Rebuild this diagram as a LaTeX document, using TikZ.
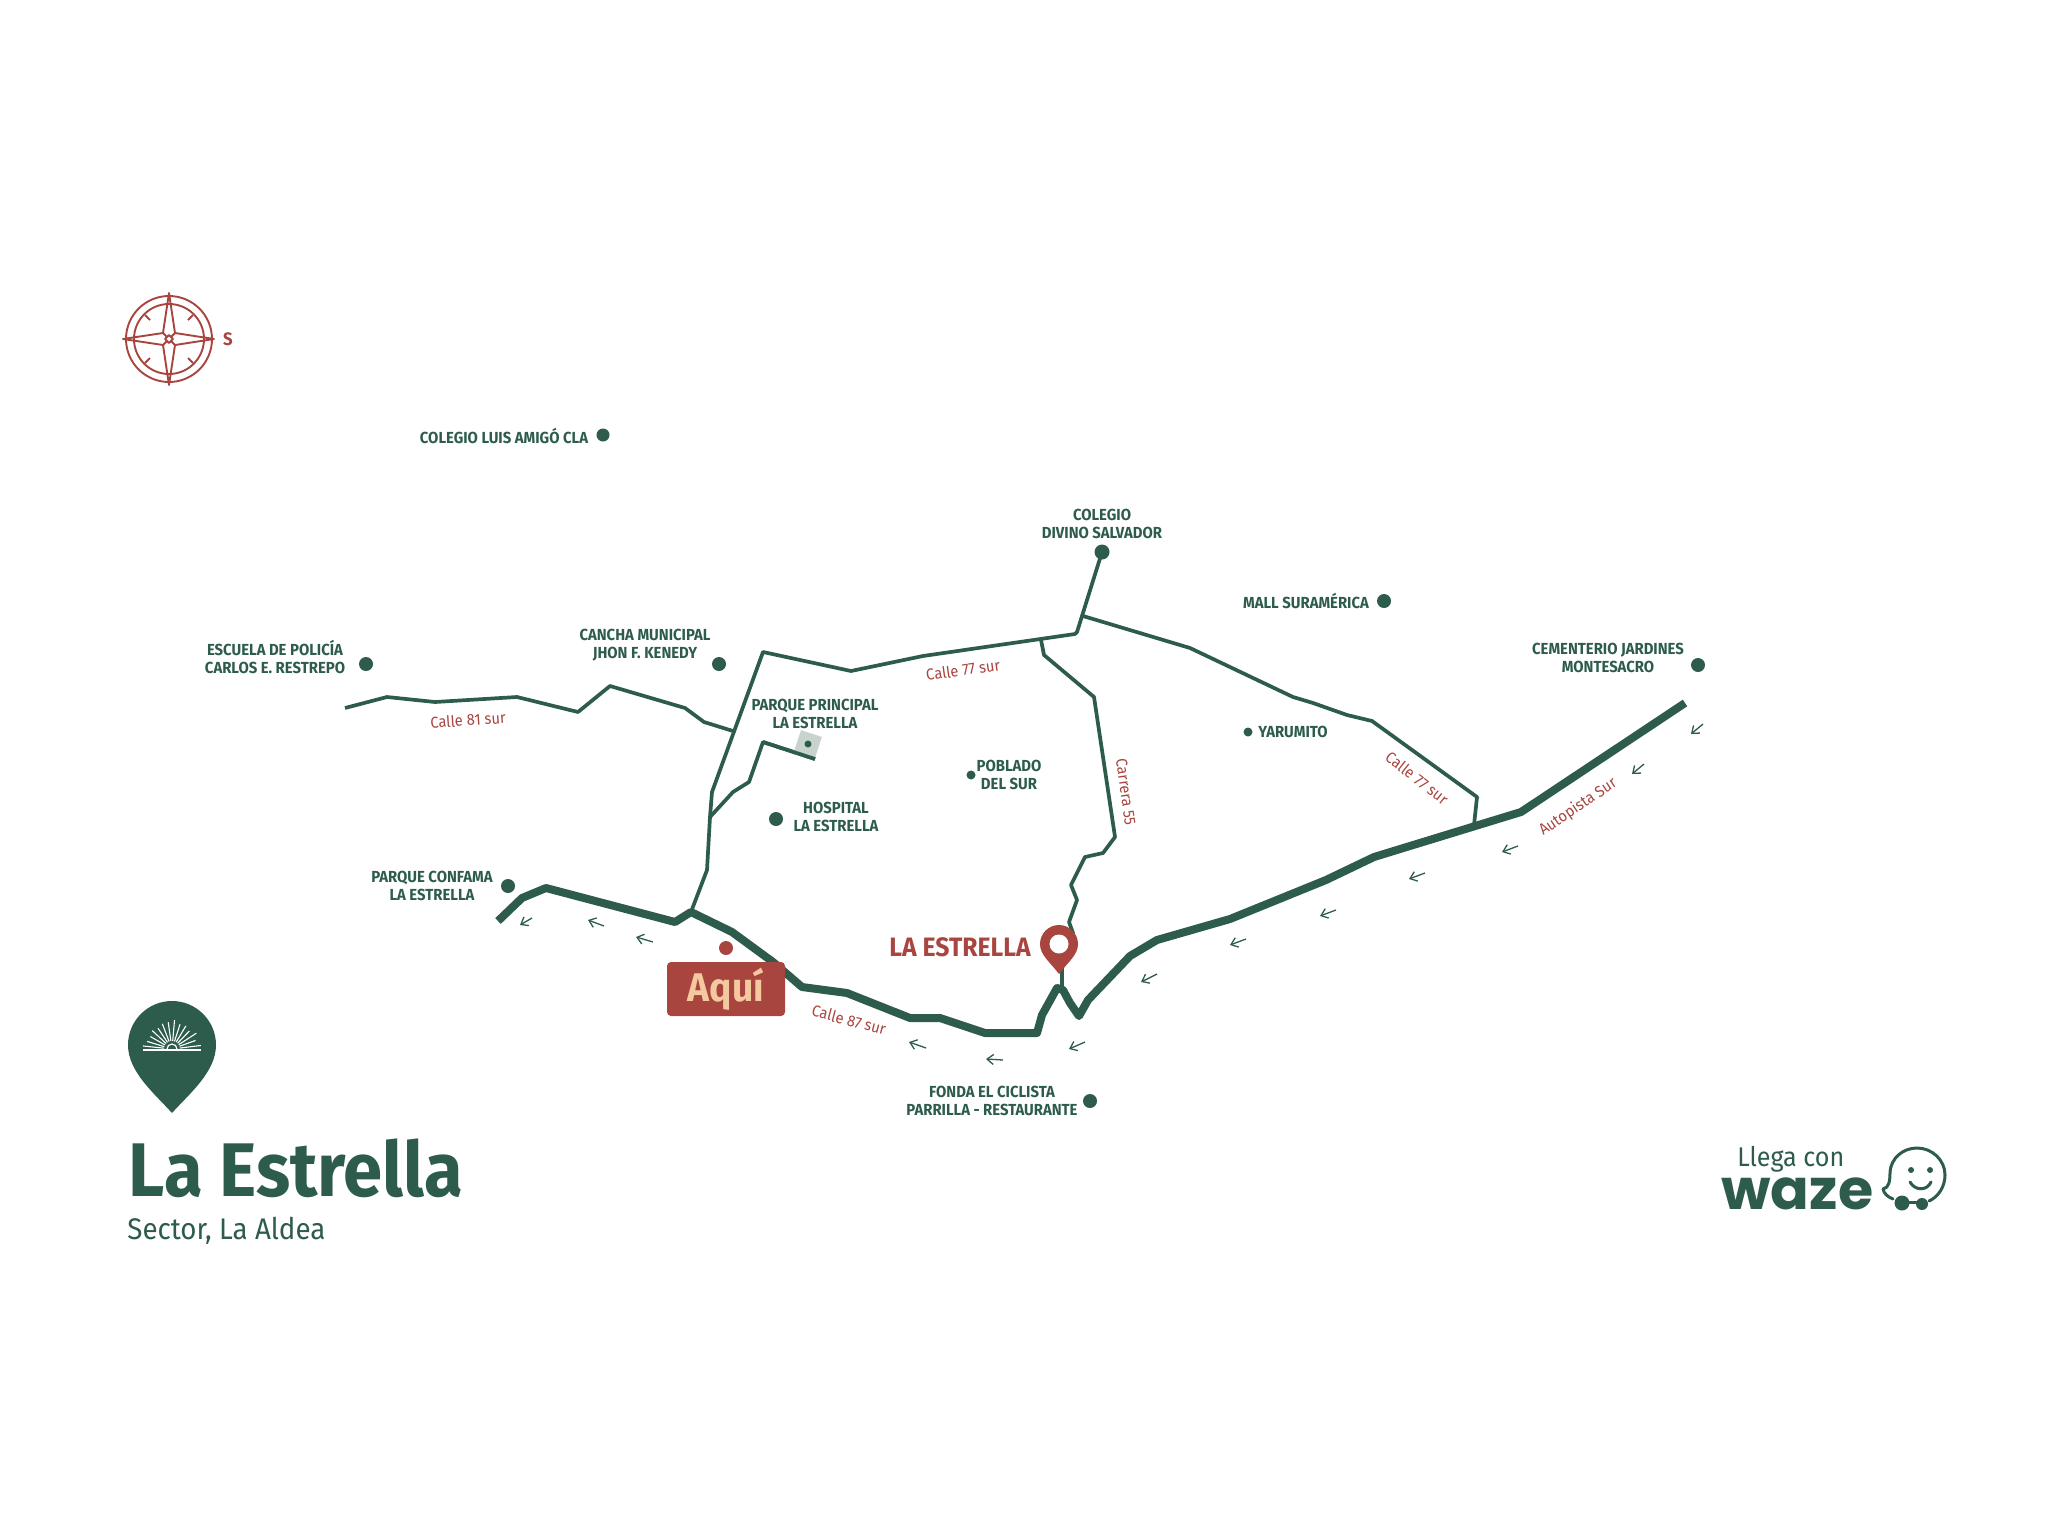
\documentclass[tikz,border=0pt]{standalone}
\usepackage{fontspec}
\setmainfont{Fira Sans}
\newfontfamily\labf[FakeStretch=0.93]{Fira Sans}
\newfontfamily\wazef{Poppins}
\usetikzlibrary{arrows.meta}
\definecolor{verde}{HTML}{2D5C4C}
\definecolor{rojo}{HTML}{A8453F}
\definecolor{crema}{HTML}{F5C9A0}
\definecolor{gris}{HTML}{C8D3CE}
\tikzset{
  x=0.5pt,y=-0.5pt,
  road/.style={draw=verde,line width=1.85pt,line join=round,line cap=butt},
  mainroad/.style={draw=verde,line width=4pt,line join=round,line cap=butt},
  place/.style={font=\labf\bfseries\fontsize{8}{8.9}\selectfont,text=verde,align=center,inner sep=0pt},
  street/.style={font=\labf\fontsize{7.9}{8.8}\selectfont,text=rojo,inner sep=0pt},
  pt/.style={circle,fill=verde,inner sep=0pt,minimum size=#1*1pt},
  flow/.style={draw=verde,line width=0.65pt,-{Straight Barb[length=3.2pt,width=5pt]}},
  rosa/.style={draw=rojo,line width=0.95pt,line join=round}
}
\begin{document}
\begin{tikzpicture}
\useasboundingbox (0,0) rectangle (2048,1536);
% secondary roads
\draw[road] (345,708)--(387,697)--(435,702)--(517,697)--(578,712)--(610,686)--(685,708)--(704,722)--(733,731);
\draw[road] (691,912)--(707,870)--(710,817)--(712,792)--(763,652)--(851,671)--(923,656)--(1075,634)--(1077,632)--(1102,552);
\draw[road] (710,817)--(733,792)--(749,782)--(763,742)--(815,759);
\draw[road] (1083,616)--(1190,648)--(1293,697)--(1313,703)--(1347,715)--(1372,721)--(1477,797)--(1474,825);
\draw[road] (1041,640)--(1044,655)--(1094,697)--(1115,837)--(1103,853)--(1085,857)--(1071,885)--(1077,900)--(1069,922)--(1073,933)--(1062,960)--(1062,990);
% main road
\draw[mainroad] (498,921)--(522,898)--(546,888)--(675,922)--(691,912)--(732,932)--(773,962)--(802,987)--(847,993)--(910,1018)--(940,1018)--(985,1033)--(1037,1033)--(1042,1015)--(1057,988)--(1063,990)--(1070,1003)--(1079,1016)--(1088,1000)--(1130,956)--(1157,940)--(1230,919)--(1326,880)--(1374,857)--(1521,812)--(1685,703);
% park
\fill[gris,rotate around={-18:(808,744)}] (797,733) rectangle (819,755);
\draw[road] (763,742)--(815,759);
% places
\node[pt=6.5] (dAmigo) at (603,435) {};
\node[place] (lAmigo) at (504,436) {COLEGIO LUIS AMIGÓ CLA};
\node[pt=7.5] (dDivino) at (1102,552) {};
\node[place] (lDivino) at (1102,524) {COLEGIO\\DIVINO SALVADOR};
\node[pt=7] (dMall) at (1384,601) {};
\node[place] (lMall) at (1306,600.5) {MALL SURAMÉRICA};
\node[pt=7] (dCem) at (1698,665) {};
\node[place] (lCem) at (1608,658) {CEMENTERIO JARDINES\\MONTESACRO};
\node[pt=7] (dEsc) at (366,664) {};
\node[place] (lEsc) at (275,657) {ESCUELA DE POLICÍA\\CARLOS E. RESTREPO};
\node[pt=7] (dCan) at (719,664) {};
\node[place] (lCan) at (645,645) {CANCHA MUNICIPAL\\JHON F. KENEDY};
\node[pt=3.5] (dPar) at (808,744) {};
\node[place] (lPar) at (815,714) {PARQUE PRINCIPAL\\LA ESTRELLA};
\node[pt=4.5] (dPob) at (971,775) {};
\node[place] (lPob) at (1009,775) {POBLADO\\DEL SUR};
\node[pt=7] (dHos) at (776,819) {};
\node[place] (lHos) at (836,817) {HOSPITAL\\LA ESTRELLA};
\node[pt=4.5] (dYar) at (1248,732) {};
\node[place] (lYar) at (1293,732) {YARUMITO};
\node[pt=7] (dCon) at (508,886) {};
\node[place] (lCon) at (432,886) {PARQUE CONFAMA\\LA ESTRELLA};
\node[pt=7] (dFon) at (1090,1101) {};
\node[place] (lFon) at (992,1101) {FONDA EL CICLISTA\\PARRILLA - RESTAURANTE};
% street names
\node[street,rotate=-15] (s87) at (849,1020) {Calle 87 sur};
\node[street,rotate=8] (s77a) at (963,670) {Calle 77 sur};
\node[street,rotate=4] (s81) at (468,720) {Calle 81 sur};
\node[street,rotate=-82] (c55) at (1126,792) {Carrera 55};
\node[street,rotate=-38] (s77b) at (1417,778) {Calle 77 sur};
\node[street,rotate=34] (aut) at (1578,807) {Autopista Sur};
% flow arrows
\draw[flow] (532,918)--(520,925);
\draw[flow] (604,926)--(588,920);
\draw[flow] (653,942)--(636,937);
\draw[flow] (926,1048)--(909,1042);
\draw[flow] (1003,1060)--(986,1059);
\draw[flow] (1085,1042)--(1069,1049);
\draw[flow] (1157,974)--(1141,982);
\draw[flow] (1246,939)--(1230,945);
\draw[flow] (1336,910)--(1320,916);
\draw[flow] (1425,873)--(1409,879);
\draw[flow] (1518,846)--(1502,852);
\draw[flow] (1644,764)--(1632,774);
\draw[flow] (1703,724)--(1691,734);
% destination pin
\fill[rojo] (1059,974) .. controls (1050,962) and (1040,955) .. (1040,944) arc[start angle=180,end angle=360,radius=19] .. controls (1078,955) and (1068,962) .. (1059,974) -- cycle;
\fill[white] (1059,944) circle[radius=9.5];
\node[font=\labf\bfseries\fontsize{13.3}{13.3}\selectfont,text=rojo,inner sep=0pt] (lEst) at (960,947) {LA ESTRELLA};
% here
\node[circle,fill=rojo,inner sep=0pt,minimum size=7pt] (dAqui) at (726,948) {};
\node[fill=rojo,rounded corners=2pt,minimum width=59pt,minimum height=27pt,inner sep=0pt,text=crema,font=\labf\bfseries\fontsize{20}{20}\selectfont] (aqui) at (726,989) {Aquí};
% compass
\draw[rosa] (169,339) circle[radius=43] (169,339) circle[radius=35];
\draw[rosa] (169,293)--(175,333)--(214,339)--(175,345)--(169,385)--(163,345)--(123,339)--(163,333)--cycle;
\draw[rosa] (169,335)--(173,339)--(169,343)--(165,339)--cycle;
\draw[rosa] (163,333)--(167,337) (175,333)--(171,337) (175,345)--(171,341) (163,345)--(167,341);
\draw[rosa] (145,315)--(150,320) (193,315)--(188,320) (145,363)--(150,358) (193,363)--(188,358);
\node[font=\labf\bfseries\fontsize{9}{9}\selectfont,text=rojo,inner sep=0pt] (sur) at (228,339) {S};
% brand pin
\fill[verde] (172,1113) .. controls (155,1094) and (128,1072) .. (128,1045) arc[start angle=180,end angle=360,radius=44] .. controls (216,1072) and (189,1094) .. (172,1113) -- cycle;
\draw[white,line width=0.6pt] (143,1050)--(201,1050);
\draw[white,line width=0.6pt] (167,1049) arc[start angle=180,end angle=360,radius=5];
\foreach \a/\r in {7/29,20/25,33/29,46/25,59/27,72/26,85/29,98/27,111/27,124/25,137/27,150/25,163/26,174/29}
  \draw[white,line width=0.55pt] ({172+8*cos(\a)},{1049-8*sin(\a)})--({172+\r*cos(\a)},{1049-\r*sin(\a)});
\node[anchor=base west,inner sep=0pt,font=\labf\bfseries\fontsize{38}{38}\selectfont,text=verde] (title) at (128,1196) {La Estrella};
\node[anchor=base west,inner sep=0pt,font=\labf\fontsize{14.9}{14.9}\selectfont,text=verde] (sub) at (127,1239) {Sector, La Aldea};
% waze
\node[anchor=base west,inner sep=0pt,font=\labf\fontsize{13.5}{13.5}\selectfont,text=verde] (llega) at (1737,1166) {Llega con};
\node[anchor=base west,inner sep=0pt,font=\wazef\bfseries\fontsize{28}{28}\selectfont,text=verde,xscale=1.02] (waze) at (1721,1209) {waze};
\draw[verde,line width=1.5pt,line join=round,line cap=round] (1893,1199) .. controls (1888,1197) and (1884,1194) .. (1883,1189) .. controls (1889,1188) and (1890,1181) .. (1890,1172) .. controls (1891,1158) and (1903,1148) .. (1917,1148) .. controls (1932,1148) and (1945,1160) .. (1945,1175) .. controls (1945,1187) and (1938,1197) .. (1929,1201);
\draw[verde,line width=1.5pt] (1908,1202)--(1917,1202);
\fill[verde] (1902,1203) circle[radius=7.5] (1922,1204) circle[radius=6];
\fill[verde] (1911,1170) circle[radius=3] (1930,1170) circle[radius=3];
\draw[verde,line width=1.5pt,line cap=round] (1910,1182) .. controls (1915,1191) and (1927,1191) .. (1931,1182);
\end{tikzpicture}
\end{document}
